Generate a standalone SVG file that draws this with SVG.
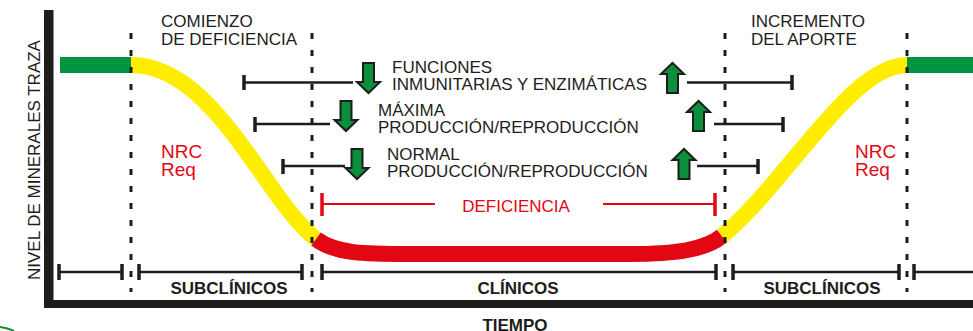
<svg xmlns="http://www.w3.org/2000/svg" width="973" height="331" viewBox="0 0 973 331">
<style>
.t{font-family:"Liberation Sans",Arial,sans-serif;font-size:17px;fill:#1d1d1b}
.red{fill:#e30613}
.nrc{font-size:19px}
.b{font-weight:bold}
.dash{stroke:#1d1d1b;stroke-width:3;stroke-dasharray:6 11;fill:none}
.bar{stroke:#1d1d1b;stroke-width:2.5;fill:none}
.tick{stroke:#1d1d1b;stroke-width:3.5;fill:none}
.rbar{stroke:#e30613;stroke-width:2.2;fill:none}
.rtick{stroke:#e30613;stroke-width:3.5;fill:none}
.arrow{fill:#0b8f3c;stroke:#1d1d1b;stroke-width:2;stroke-linejoin:miter}
.band{fill:none;stroke-width:16;stroke-linecap:butt}
</style>
<defs>
<path id="down" class="arrow" d="M-5.5,0 H5.5 V19 H11.5 L0,30 L-11.5,19 H-5.5 Z"/>
<path id="up" class="arrow" d="M-5.5,30 H5.5 V11 H11.5 L0,0 L-11.5,11 H-5.5 Z"/>
</defs>
<rect width="973" height="331" fill="#ffffff"/>

<g id="axes">
<rect x="44" y="10" width="9.5" height="298" fill="#1d1d1b"/>
<rect x="44" y="300" width="929" height="8" fill="#1d1d1b"/>
<text class="t" transform="translate(40,280) rotate(-90)">NIVEL DE MINERALES TRAZA</text>
<text class="t b" x="515" y="331" text-anchor="middle">TIEMPO</text>
<path d="M0,327 Q8,328 14,331" stroke="#0b8f3c" stroke-width="2" fill="none"/>
</g>

<g id="curve">
<rect x="60" y="57" width="71" height="16" fill="#00963f"/>
<rect x="907" y="57" width="66" height="16" fill="#00963f"/>
<path class="band" stroke="#ffed00" d="M131,65 C215,65 265,200 316,239"/>
<path class="band" stroke="#e30613" d="M316,239 C336,254 365,254 410,254 L630,254 C675,254 705,250 722,236"/>
<path class="band" stroke="#ffed00" d="M722,236 C785,185 850,65 907,65"/>
</g>

<g id="connectors">
<line class="dash" x1="131" y1="33" x2="131" y2="292"/>
<line class="dash" x1="312" y1="33" x2="312" y2="292"/>
<line class="dash" x1="725" y1="33" x2="725" y2="292"/>
<line class="dash" x1="907" y1="33" x2="907" y2="292"/>

<line class="bar" x1="244" y1="82.5" x2="353" y2="82.5"/>
<line class="tick" x1="244" y1="75" x2="244" y2="90"/>
<line class="bar" x1="687" y1="82.5" x2="792" y2="82.5"/>
<line class="tick" x1="792" y1="75" x2="792" y2="90"/>

<line class="bar" x1="255" y1="124" x2="330" y2="124"/>
<line class="tick" x1="255" y1="117" x2="255" y2="132"/>
<line class="bar" x1="714" y1="124" x2="783" y2="124"/>
<line class="tick" x1="783" y1="117" x2="783" y2="132"/>

<line class="bar" x1="283" y1="166" x2="345" y2="166"/>
<line class="tick" x1="283" y1="159" x2="283" y2="174"/>
<line class="bar" x1="697" y1="166" x2="758" y2="166"/>
<line class="tick" x1="758" y1="159" x2="758" y2="174"/>

<line class="rbar" x1="322" y1="204" x2="435" y2="204"/>
<line class="rtick" x1="322" y1="193" x2="322" y2="216"/>
<line class="rbar" x1="603" y1="204" x2="715" y2="204"/>
<line class="rtick" x1="715" y1="193" x2="715" y2="216"/>

<line class="bar" x1="59" y1="272" x2="122" y2="272"/>
<line class="tick" x1="59" y1="264" x2="59" y2="280"/>
<line class="tick" x1="122" y1="264" x2="122" y2="280"/>
<line class="bar" x1="139" y1="272" x2="302" y2="272"/>
<line class="tick" x1="139" y1="264" x2="139" y2="280"/>
<line class="tick" x1="302" y1="264" x2="302" y2="280"/>
<line class="bar" x1="322" y1="272" x2="716" y2="272"/>
<line class="tick" x1="322" y1="264" x2="322" y2="280"/>
<line class="tick" x1="716" y1="264" x2="716" y2="280"/>
<line class="bar" x1="733" y1="272" x2="899" y2="272"/>
<line class="tick" x1="733" y1="264" x2="733" y2="280"/>
<line class="tick" x1="899" y1="264" x2="899" y2="280"/>
<line class="bar" x1="914" y1="272" x2="973" y2="272"/>
<line class="tick" x1="914" y1="264" x2="914" y2="280"/>
</g>

<g id="arrows">
<use href="#down" transform="translate(368.5,63)"/>
<use href="#down" transform="translate(346,101)"/>
<use href="#down" transform="translate(357,149)"/>
<use href="#up" transform="translate(672.5,63)"/>
<use href="#up" transform="translate(698.5,101)"/>
<use href="#up" transform="translate(684,149)"/>
</g>

<g id="comienzo">
<text class="t" x="161" y="27">COMIENZO</text>
<text class="t" x="161" y="45">DE DEFICIENCIA</text>
</g>
<g id="incremento">
<text class="t" x="751" y="27">INCREMENTO</text>
<text class="t" x="751" y="45">DEL APORTE</text>
</g>
<g id="funciones">
<text class="t" x="392" y="73">FUNCIONES</text>
<text class="t" x="392" y="90">INMUNITARIAS Y ENZIMÁTICAS</text>
</g>
<g id="maxima">
<text class="t" x="378" y="116">MÁXIMA</text>
<text class="t" x="378" y="133">PRODUCCIÓN/REPRODUCCIÓN</text>
</g>
<g id="normal">
<text class="t" x="387" y="160">NORMAL</text>
<text class="t" x="387" y="177">PRODUCCIÓN/REPRODUCCIÓN</text>
</g>
<g id="nrc-left">
<text class="t red nrc" x="161" y="158">NRC</text>
<text class="t red nrc" x="161" y="176">Req</text>
</g>
<g id="nrc-right">
<text class="t red nrc" x="855" y="158">NRC</text>
<text class="t red nrc" x="855" y="176">Req</text>
</g>
<g id="deficiencia">
<text class="t red" x="516" y="212" text-anchor="middle">DEFICIENCIA</text>
</g>
<g id="phases">
<text class="t b" x="229" y="294" text-anchor="middle">SUBCLÍNICOS</text>
<text class="t b" x="518" y="294" text-anchor="middle">CLÍNICOS</text>
<text class="t b" x="822" y="294" text-anchor="middle">SUBCLÍNICOS</text>
</g>
</svg>
